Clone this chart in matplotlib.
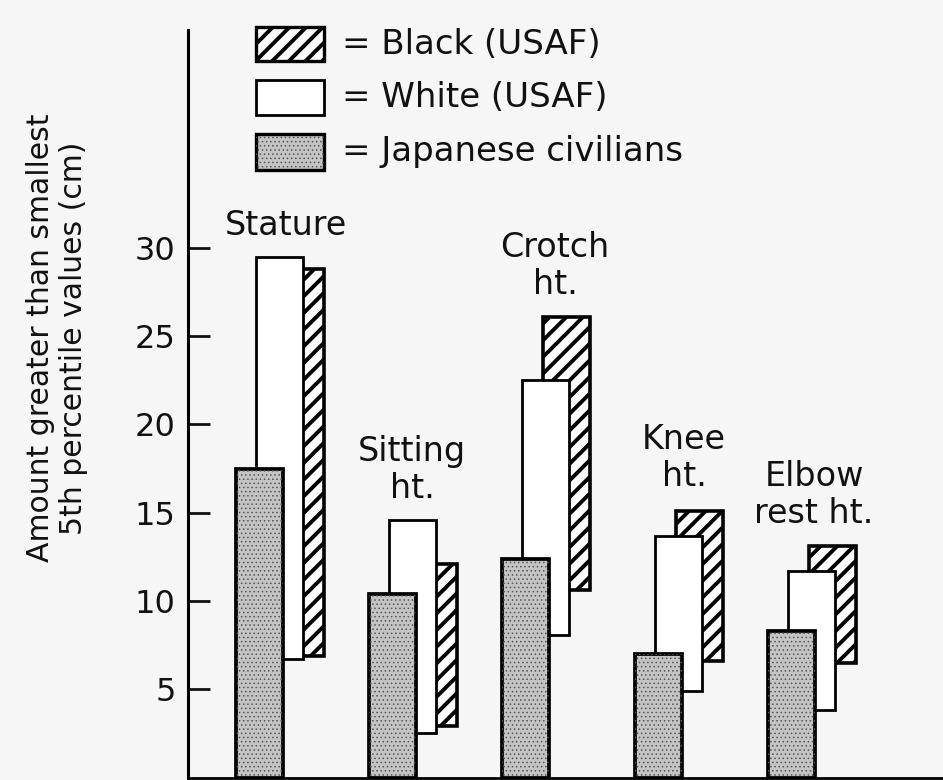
import matplotlib
matplotlib.use("Agg")
import matplotlib.pyplot as plt
from matplotlib.patches import Rectangle
import numpy as np

# ---- data (cm above the smallest 5th percentile) ----
categories = ["Stature", "Sitting\nht.", "Crotch\nht.", "Knee\nht.", "Elbow\nrest ht."]
japanese_low = [0, 0, 0, 0, 0]
japanese_high = [17.5, 10.4, 12.4, 7.0, 8.3]
white_low = [6.7, 2.5, 8.1, 4.9, 3.8]
white_high = [29.5, 14.6, 22.5, 13.7, 11.7]
black_low = [6.9, 2.9, 10.6, 6.6, 6.5]
black_high = [28.8, 12.1, 26.1, 15.1, 13.1]
series_names = ["= Black (USAF)", "= White (USAF)", "= Japanese civilians"]
yticks = [5, 10, 15, 20, 25, 30]

# ---- layout / style ----
W, H, DPI = 943, 780, 100
BG = "#f6f6f6"
FONT = "DejaVu Sans"
plt.rcParams["font.family"] = [FONT]
label_pos = [(0.737, 31.3), (1.684, 17.4), (2.759, 29.0), (3.729, 18.1), (4.707, 16.0)]
JAP_FACE = "#c4c4c4"
HATCH_LW = 2.8
DOT_LW = 0.6

fig = plt.figure(figsize=(W / DPI, H / DPI), dpi=DPI, facecolor=BG)
ax_left, ax_right, ax_bot, ax_top = 188, 943, 777.5, 30
ax = fig.add_axes([ax_left / W, 1 - ax_bot / H, (ax_right - ax_left) / W, (ax_bot - ax_top) / H])
ax.set_facecolor(BG)

x = np.arange(len(categories))
bar_w = 0.353
start = 0.36
off_white = 0.155
off_black = 0.31

jl = np.array(japanese_low); jh = np.array(japanese_high)
wl = np.array(white_low); wh = np.array(white_high)
bl = np.array(black_low); bh = np.array(black_high)


def make_bars(xs, lo, hi, hlw=None, **kw):
    if hlw is not None:
        with plt.rc_context({"hatch.linewidth": hlw}):
            return ax.bar(xs, hi - lo, bottom=lo, width=bar_w, align="edge", **kw)
    return ax.bar(xs, hi - lo, bottom=lo, width=bar_w, align="edge", **kw)


# black (hatched), behind
make_bars(x + start + off_black, bl, bh, facecolor="white", edgecolor="black",
          linewidth=2.6, hatch="//", hlw=HATCH_LW, zorder=2)
# white
make_bars(x + start + off_white, wl, wh, facecolor="white", edgecolor="black",
          linewidth=2.0, zorder=3)
# japanese (stippled)
make_bars(x + start, jl, jh, facecolor=JAP_FACE, edgecolor="black",
          linewidth=2.7, zorder=4)
make_bars(x + start, jl, jh, facecolor="none", edgecolor="#555555",
          linewidth=0, hatch="....", hlw=DOT_LW, zorder=5)

ax.set_xlim(0, (ax_right - ax_left) / 133.0)
ax.set_ylim(0, 42.35)
ax.set_yticks(yticks)
ax.set_yticklabels([str(t) for t in yticks])
ax.set_xticks([])
ax.tick_params(axis="y", direction="in", length=15.8, width=2.0, pad=9,
               labelsize=23, colors="#111111")
for s in ["top", "right"]:
    ax.spines[s].set_visible(False)
ax.spines["left"].set_linewidth(2.2)
ax.spines["bottom"].set_linewidth(2.0)

for name, (lx, ly) in zip(categories, label_pos):
    ax.text(lx, ly, name, ha="center", va="center", multialignment="center",
            fontsize=24, color="#111111", linespacing=1.15, zorder=6)

# y label
fig.text(57 / W, 1 - 338 / H,
         "Amount greater than smallest\n5th percentile values (cm)",
         rotation=90, ha="center", va="center", multialignment="center",
         fontsize=21.5, color="#111111", linespacing=1.2)

# legend (manual)
leg_rows = [(27, 61), (80, 115), (134, 170)]
styles = [
    dict(facecolor="white", edgecolor="black", linewidth=2.4, hatch="//"),
    dict(facecolor="white", edgecolor="black", linewidth=2.0),
    dict(facecolor=JAP_FACE, edgecolor="black", linewidth=2.4),
]
for (y0, y1), name, st in zip(leg_rows, series_names, styles):
    with plt.rc_context({"hatch.linewidth": HATCH_LW}):
        r = Rectangle((256 / W, 1 - y1 / H), 68 / W, (y1 - y0) / H,
                      transform=fig.transFigure, **st)
    fig.add_artist(r)
    if st["facecolor"] == JAP_FACE:
        with plt.rc_context({"hatch.linewidth": DOT_LW}):
            r2 = Rectangle((256 / W, 1 - y1 / H), 68 / W, (y1 - y0) / H,
                           transform=fig.transFigure, facecolor="none",
                           edgecolor="#555555", linewidth=0, hatch="....")
        fig.add_artist(r2)
    fig.text(342 / W, 1 - ((y0 + y1) / 2) / H, name, ha="left", va="center",
             fontsize=24.5, color="#111111")

fig.savefig("out.png", dpi=DPI, facecolor=BG)
